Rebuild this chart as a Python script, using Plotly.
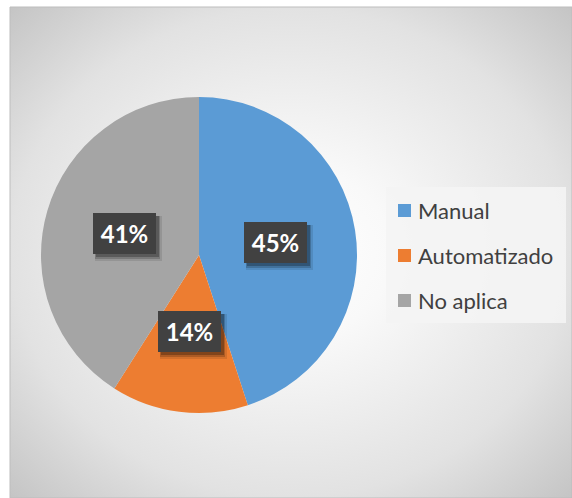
import math
import plotly.graph_objects as go

# Data
categories = ["Manual", "Automatizado", "No aplica"]
shares = [45, 14, 41]
colors = ["#5B9BD5", "#ED7D31", "#A5A5A5"]

# Canvas / layout geometry (pixels)
W, H = 572, 498
AREA_L, AREA_T = 10, 7            # chart area starts here, runs to the right/bottom edge
PIE_CX, PIE_CY, PIE_R = 199, 255, 158
LABEL_RATIO = 0.49                # data labels sit at ~half the radius

area_w = W - AREA_L
area_h = H - AREA_T


def to_paper(px, py):
    return (px - AREA_L) / area_w, 1 - (py - AREA_T) / area_h


fig = go.Figure()

# Radial gradient background of the chart area (oversized so corners reach the outer colour)
gcx, gcy = (AREA_L + W) / 2, (AREA_T + H) / 2
hx, hy = (W - AREA_L) / 2 * 1.42, (H - AREA_T) / 2 * 1.42
fig.add_trace(go.Scatter(
    x=[gcx - hx, gcx + hx, gcx + hx, gcx - hx, gcx - hx],
    y=[gcy - hy, gcy - hy, gcy + hy, gcy + hy, gcy - hy],
    mode="lines", line=dict(width=0), fill="toself",
    fillgradient=dict(type="radial",
                      colorscale=[[0, "#ffffff"], [0.25, "#f9f9f9"],
                                  [0.7, "#e2e2e2"], [1, "#c4c4c4"]]),
    hoverinfo="skip", showlegend=False,
))

# Pie
x0, y1 = to_paper(PIE_CX - PIE_R, PIE_CY - PIE_R)
x1, y0 = to_paper(PIE_CX + PIE_R, PIE_CY + PIE_R)
fig.add_trace(go.Pie(
    labels=categories, values=shares,
    marker=dict(colors=colors, line=dict(width=0)),
    sort=False, direction="clockwise", rotation=0,
    textinfo="none", hoverinfo="label+percent",
    domain=dict(x=[x0, x1], y=[y0, y1]),
    showlegend=False,
))

annotations = []
shapes = []

# Data labels: dark boxes with a soft drop shadow, at each slice's mid-angle
total = sum(shares)
cum = 0
for v in shares:
    mid = (cum + v / 2) / total * 2 * math.pi
    cum += v
    px = PIE_CX + LABEL_RATIO * PIE_R * math.sin(mid)
    py = PIE_CY - LABEL_RATIO * PIE_R * math.cos(mid)
    ax, ay = to_paper(px, py)
    text = f"{round(v / total * 100)}%"
    for dx, dy, a, grow in [(4, 5, 0.10, 4), (3, 4, 0.18, 2), (3, 3, 0.25, 0)]:
        annotations.append(dict(
            x=ax, y=ay, xref="paper", yref="paper", showarrow=False,
            xanchor="center", yanchor="middle",
            text="", width=63 + grow, height=41 + grow,
            bgcolor=f"rgba(0,0,0,{a})", borderwidth=0, borderpad=0,
            xshift=dx, yshift=-dy,
        ))
    annotations.append(dict(
        x=ax, y=ay, xref="paper", yref="paper", showarrow=False,
        xanchor="center", yanchor="middle",
        text=f"<b>{text}</b>", width=63, height=41,
        bgcolor="#414141", borderwidth=0, borderpad=0,
        font=dict(family="Lato", size=24, color="#ffffff"),
        align="center", valign="middle",
    ))

# Legend panel
LEG_L, LEG_T, LEG_R, LEG_B = 386, 187, 566, 323
lx0, ly1 = to_paper(LEG_L, LEG_T)
lx1, ly0 = to_paper(LEG_R, LEG_B)
shapes.append(dict(type="rect", xref="paper", yref="paper",
                   x0=lx0, x1=lx1, y0=ly0, y1=ly1,
                   fillcolor="rgba(244,244,244,0.9)", line=dict(width=0), layer="above"))
ROW0, ROW_STEP, SQ = 210.5, 45, 13
for i, (name, col) in enumerate(zip(categories, colors)):
    cy = ROW0 + i * ROW_STEP
    sx0, sy1 = to_paper(398, cy - SQ / 2)
    sx1, sy0 = to_paper(398 + SQ, cy + SQ / 2)
    shapes.append(dict(type="rect", xref="paper", yref="paper",
                       x0=sx0, x1=sx1, y0=sy0, y1=sy1,
                       fillcolor=col, line=dict(width=0), layer="above"))
    tx, ty = to_paper(416, cy)
    annotations.append(dict(
        x=tx, y=ty, xref="paper", yref="paper", showarrow=False,
        text=name, xanchor="left", yanchor="middle",
        font=dict(family="Lato", size=22, color="#404040"),
    ))

# Thin frame along the chart area edge
shapes.append(dict(type="rect", xref="paper", yref="paper", x0=0, x1=1, y0=0, y1=1,
                   line=dict(color="#bdbdbd", width=1), fillcolor="rgba(0,0,0,0)", layer="above"))

fig.update_layout(
    width=W, height=H,
    margin=dict(l=AREA_L, t=AREA_T, r=0, b=0, pad=0),
    paper_bgcolor="#ffffff", plot_bgcolor="rgba(0,0,0,0)",
    xaxis=dict(range=[AREA_L, W], visible=False, fixedrange=True),
    yaxis=dict(range=[H, AREA_T], visible=False, fixedrange=True),
    showlegend=False,
    annotations=annotations, shapes=shapes,
)

fig.write_html("out.html")
